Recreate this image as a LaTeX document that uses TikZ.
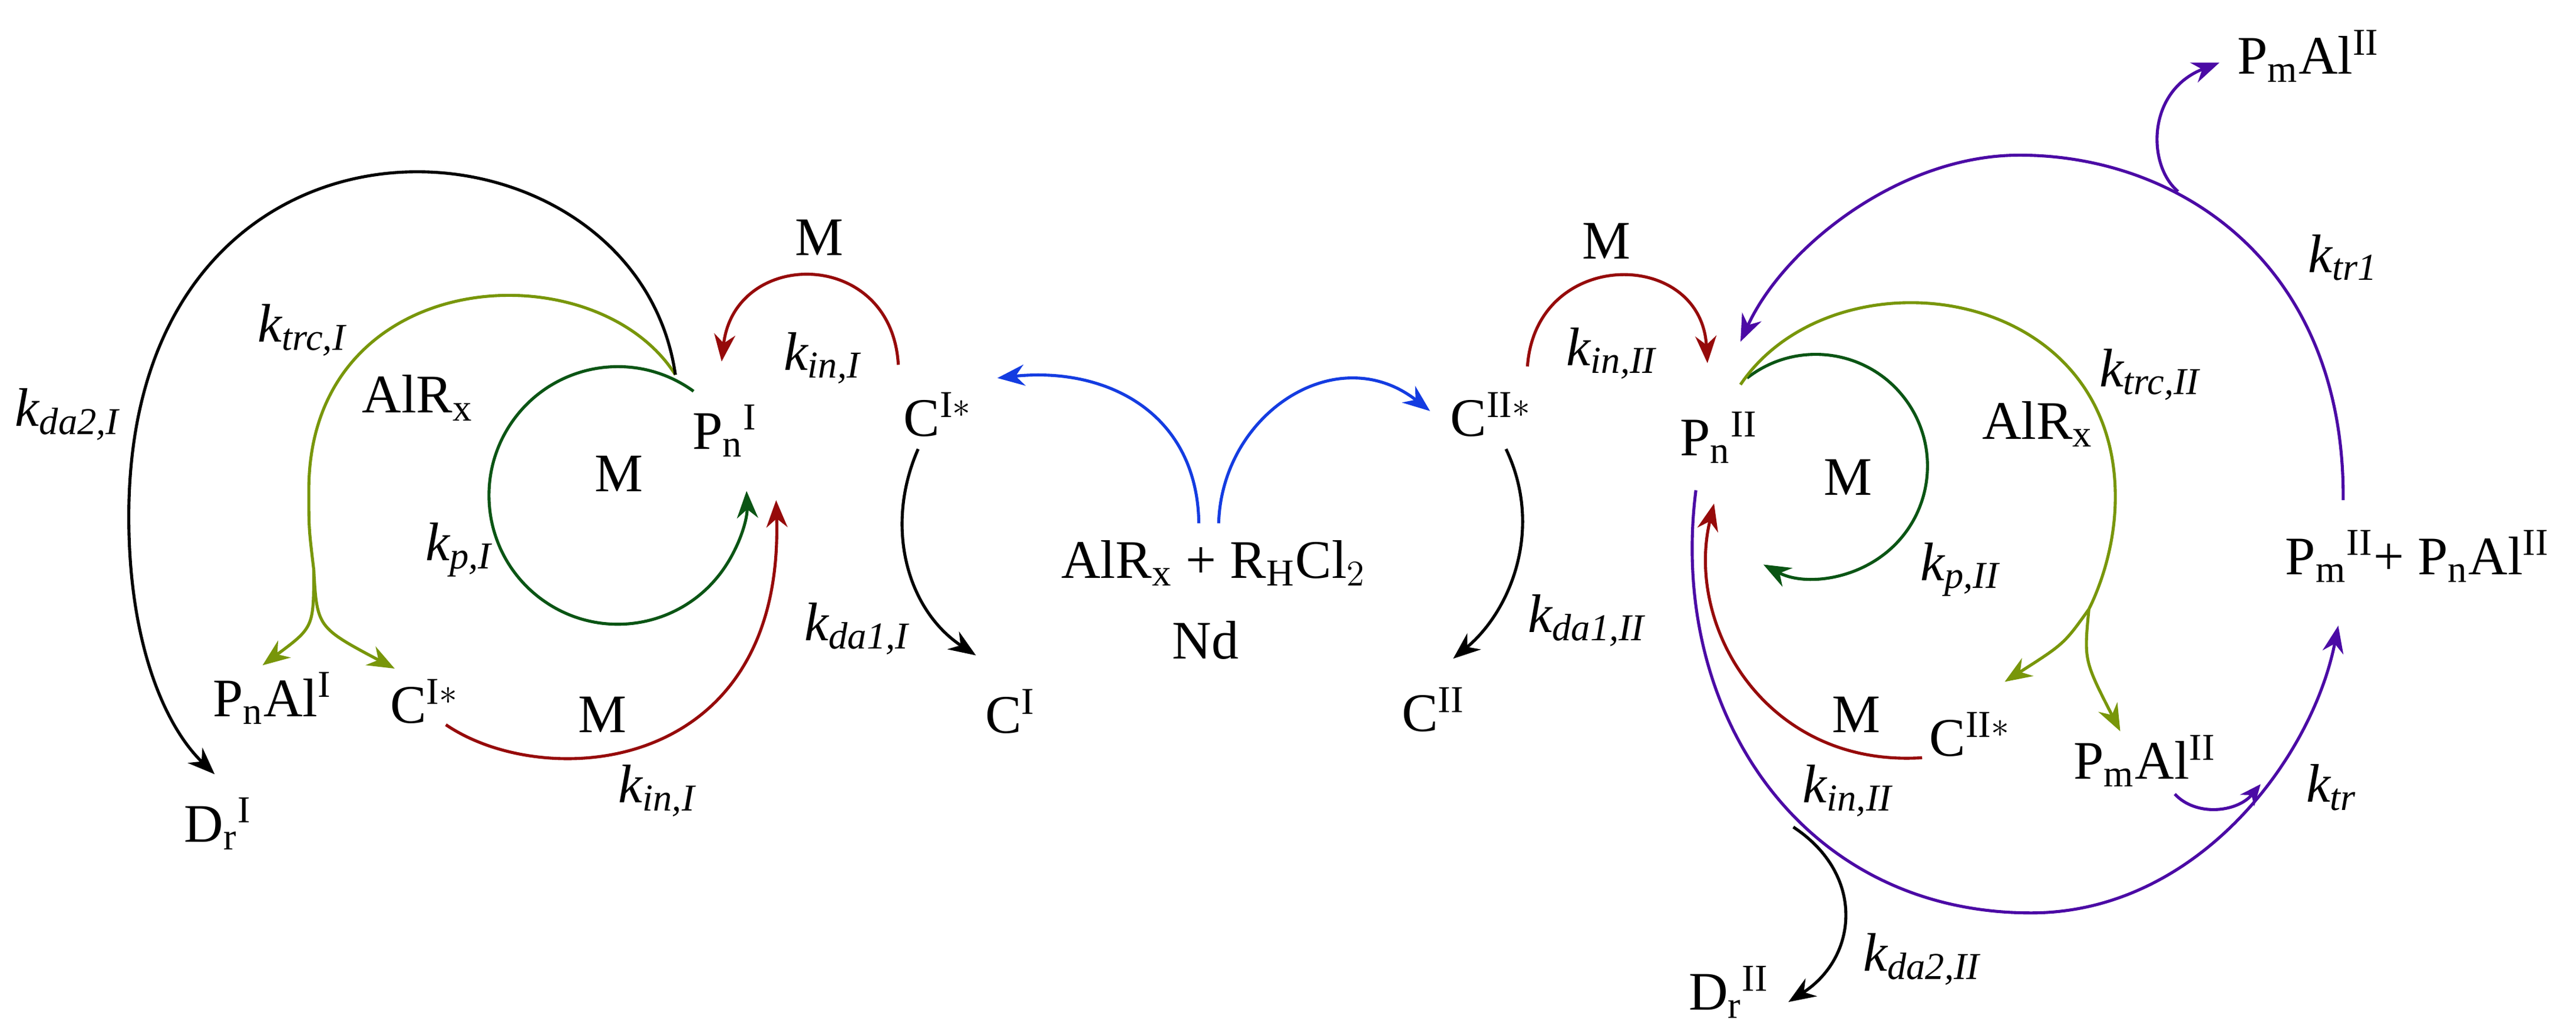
\documentclass[tikz,border=0pt]{standalone}
\usepackage{fontspec}
\setmainfont{Liberation Serif}
\usetikzlibrary{arrows.meta}
\definecolor{cred}{RGB}{150,10,10}
\definecolor{cgreen}{RGB}{10,85,20}
\definecolor{colive}{RGB}{120,150,10}
\definecolor{cblue}{RGB}{20,60,225}
\definecolor{cpurple}{RGB}{75,10,165}
\tikzstyle{spec}=[inner sep=1pt,font=\fontsize{18}{21}\selectfont]
\tikzstyle{rate}=[inner sep=1pt,font=\fontsize{18}{21}\selectfont\itshape]
\tikzstyle{flow}=[line width=1pt,-{Stealth[length=9pt,width=7pt]}]
\newcommand{\rk}[1]{k\textsubscript{#1}}

\begin{document}
\begin{tikzpicture}[x=0.01923cm,y=-0.01923cm]
      \useasboundingbox (0,0) rectangle (1560,625);

      % left catalyst
      \begin{scope}
        \node[spec] (pn1) at (439,261) {P$_\mathrm{n}$$^\mathrm{I}$};
        \node[spec] (ci1) at (568,251) {C$^\mathrm{I*}$};
        \node[spec] (c1) at (612,431) {C$^\mathrm{I}$};
        \node[spec] (pal1) at (165,423) {P$_\mathrm{n}$Al$^\mathrm{I}$};
        \node[spec] (cib) at (257,425) {C$^\mathrm{I*}$};
        \node[spec] (dr1) at (132,499) {D$_\mathrm{r}$$^\mathrm{I}$};
        \node[spec] at (496,144) {M};
        \node[spec] at (375,287) {M};
        \node[spec] at (365,433) {M};
        \node[spec] at (253,241) {AlR$_\mathrm{x}$};
        \node[rate] at (498,217) {\rk{in,I}};
        \node[rate] at (183,200) {\rk{trc,I}};
        \node[rate] at (278,333) {\rk{p,I}};
        \node[rate] at (398,479) {\rk{in,I}};
        \node[rate] at (41,251) {\rk{da2,I}};
        \node[rate] at (519,381) {\rk{da1,I}};
        \coordinate (s1) at (409,227);
        \coordinate (t1) at (190,345);
        \draw[flow,cred] (544,221) .. controls (540,150) and (445,150) .. (437,219);
        \draw[flow,cgreen] (420,237) arc[start angle=54,end angle=362,radius=1.5cm];
        \draw[colive,line width=1pt] (s1) .. controls (360,150) and (187,160) .. (187,297) .. controls (187,320) .. (t1);
        \draw[flow,colive] (t1) .. controls (190,380) .. (159,403);
        \draw[flow,colive] (t1) .. controls (192,380) .. (239,405);
        \draw[flow] (s1) .. controls (385,60) and (78,40) .. (78,313) .. controls (78,390) and (100,440) .. (130,469);
        \draw[flow,cred] (270,439) .. controls (330,480) and (475,470) .. (470,303);
        \draw[flow] (556,272) .. controls (535,320) and (550,370) .. (591,397);
      \end{scope}

      % center
      \node[spec] (mix) at (735,341) {AlR$_\mathrm{x}$ + R$_\mathrm{H}$Cl$_2$};
      \node[spec] at (730,388) {Nd};
      \draw[flow,cblue] (726,317) .. controls (725,250) and (670,222) .. (604,229);
      \draw[flow,cblue] (738,317) .. controls (740,250) and (810,205) .. (866,249);

      % right catalyst
      \begin{scope}
        \node[spec] (pn2) at (1041,265) {P$_\mathrm{n}$$^\mathrm{II}$};
        \node[spec] (ci2) at (903,251) {C$^\mathrm{II*}$};
        \node[spec] (c2) at (868,430) {C$^\mathrm{II}$};
        \node[spec] (cib2) at (1193,445) {C$^\mathrm{II*}$};
        \node[spec] (pal2) at (1299,461) {P$_\mathrm{m}$Al$^\mathrm{II}$};
        \node[spec] (dr2) at (1047,601) {D$_\mathrm{r}$$^\mathrm{II}$};
        \node[spec] (prod) at (1464,337) {P$_\mathrm{m}$$^\mathrm{II}$+ P$_\mathrm{n}$Al$^\mathrm{II}$};
        \node[spec] (pal3) at (1398,34) {P$_\mathrm{m}$Al$^\mathrm{II}$};
        \node[spec] at (973,146) {M};
        \node[spec] at (1119,289) {M};
        \node[spec] at (1124,433) {M};
        \node[spec] at (1234,257) {AlR$_\mathrm{x}$};
        \node[rate] at (976,214) {\rk{in,II}};
        \node[rate] at (1302,227) {\rk{trc,II}};
        \node[rate] at (1187,345) {\rk{p,II}};
        \node[rate] at (1119,479) {\rk{in,II}};
        \node[rate] at (1164,581) {\rk{da2,II}};
        \node[rate] at (961,376) {\rk{da1,II}};
        \node[rate] at (1419,156) {\rk{tr1}};
        \node[rate] at (1412,477) {\rk{tr}};
        \coordinate (t2) at (1265,369);
        \draw[flow,cred] (925,222) .. controls (930,150) and (1030,150) .. (1034,220);
        \draw[flow] (912,272) .. controls (935,320) and (915,370) .. (880,399);
        \draw[flow,cgreen] (1058,229) arc[start angle=128,end angle=-118,radius=1.3cm];
        \draw[colive,line width=1pt] (1054,233) .. controls (1110,150) and (1281,170) .. (1281,301)
          .. controls (1281,330) and (1272,355) .. (t2);
        \draw[flow,colive] (t2) .. controls (1250,390) .. (1214,413);
        \draw[flow,colive] (t2) .. controls (1262,400) .. (1284,443);
        \draw[flow,cred] (1164,459) .. controls (1070,465) and (1020,380) .. (1038,305);
        \draw[flow,cpurple] (1027,297) .. controls (1010,430) and (1090,553) .. (1230,553)
          .. controls (1330,553) and (1400,460) .. (1416,379);
        \coordinate (b2) at (1086,501);
        \draw[flow] (b2) .. controls (1130,530) and (1125,580) .. (1083,607);
        \draw[flow,cpurple] (1419,303) .. controls (1420,160) and (1320,94) .. (1223,94)
          .. controls (1150,94) and (1080,150) .. (1054,207);
        \coordinate (u2) at (1319,116);
        \draw[flow,cpurple] (u2) .. controls (1300,100) and (1300,55) .. (1344,38);
        \draw[flow,cpurple,-{Stealth[length=7pt,width=6pt]}] (1317,481) .. controls (1330,495) and (1355,492) .. (1369,475);
      \end{scope}
    \end{tikzpicture}
\end{document}
